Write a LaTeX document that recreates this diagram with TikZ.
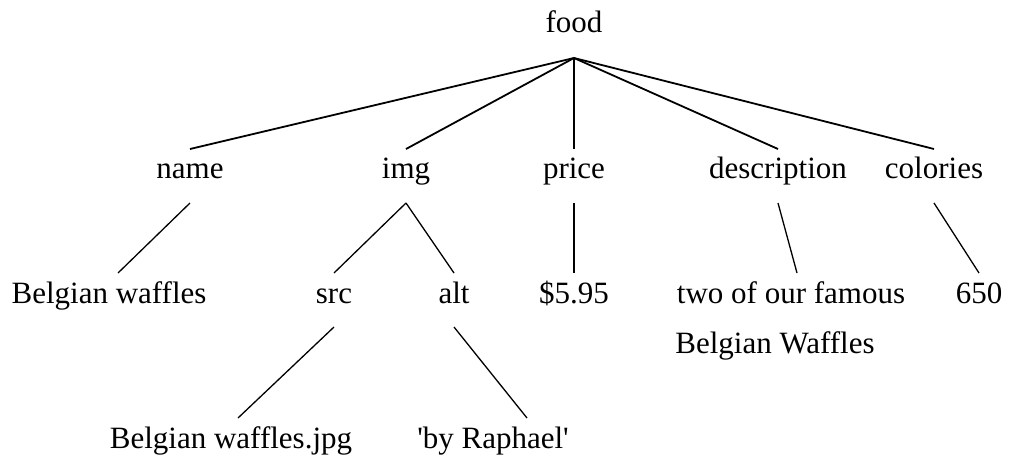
\documentclass[tikz,border=0pt]{standalone}
\usepackage{fontspec}
\setmainfont[Ligatures=TeXOff]{Liberation Serif}
\begin{document}
\begin{tikzpicture}[x=1pt,y=-1pt,
  lbl/.style={anchor=base,inner sep=0pt,font=\fontsize{31}{36}\selectfont},
  edgetop/.style={line width=1.8pt},
  edgelow/.style={line width=1.3pt}]
\useasboundingbox (0,0) rectangle (1010,456);
% root
\node[lbl] (food) at (574,32) {food};
% level 1
\node[lbl] (name) at (190,178) {name};
\node[lbl] (img) at (406,178) {img};
\node[lbl] (price) at (574,178) {price};
\node[lbl] (desc) at (778,178) {description};
\node[lbl] (col) at (934,178) {colories};
% level 2
\node[lbl] (bw) at (109,303) {Belgian waffles};
\node[lbl] (src) at (334,303) {src};
\node[lbl] (alt) at (454,303) {alt};
\node[lbl] (pv) at (574,303) {\$5.95};
\node[lbl] (two) at (791,303) {two of our famous};
\node[lbl] (bw2) at (775,353) {Belgian Waffles};
\node[lbl] (cal) at (979,303) {650};
% level 3
\node[lbl] (jpg) at (231,448) {Belgian waffles.jpg};
\node[lbl] (raph) at (493,448) {'by Raphael'};
% edges level 1
\foreach \c in {name,img,price,desc,col}
  \draw[edgetop] ([yshift=-26pt]food.base) -- ([yshift=29pt]\c.base);
% edges level 2
\draw[edgelow] ([yshift=-25pt]name.base) -- ([xshift=9pt,yshift=30pt]bw.base);
\draw[edgelow] ([yshift=-25pt]img.base) -- ([yshift=30pt]src.base);
\draw[edgelow] ([yshift=-25pt]img.base) -- ([yshift=30pt]alt.base);
\draw[edgelow] ([yshift=-25pt]price.base) -- ([yshift=30pt]pv.base);
\draw[edgelow] ([yshift=-25pt]desc.base) -- ([xshift=6pt,yshift=30pt]two.base);
\draw[edgelow] ([yshift=-25pt]col.base) -- ([yshift=30pt]cal.base);
% edges level 3
\draw[edgelow] ([yshift=-24pt]src.base) -- ([xshift=7pt,yshift=30pt]jpg.base);
\draw[edgelow] ([yshift=-24pt]alt.base) -- ([xshift=34pt,yshift=30pt]raph.base);
\end{tikzpicture}
\end{document}
